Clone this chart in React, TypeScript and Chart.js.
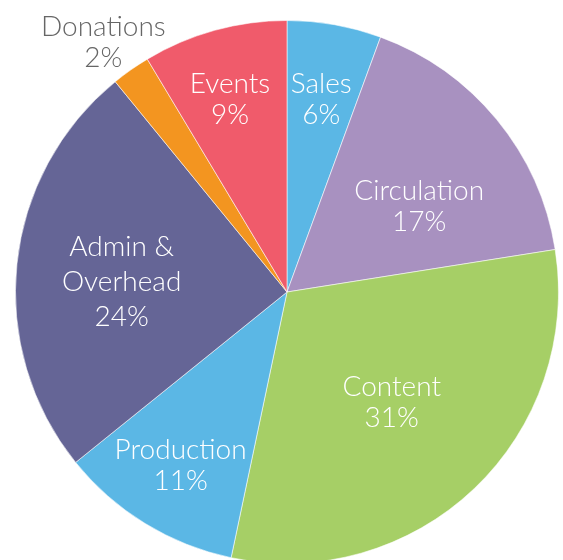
import React, { useEffect, useRef } from "react";
import { Chart, registerables } from "chart.js";

Chart.register(...registerables);

const categories = ["Sales", "Circulation", "Content", "Production", "Admin & Overhead", "Donations", "Events"];
const shares = [5.6, 16.9, 30.8, 10.9, 24.9, 2.3, 8.6];
const percentLabels = ["6%", "17%", "31%", "11%", "24%", "2%", "9%"];
const labelLines = [["Sales"], ["Circulation"], ["Content"], ["Production"], ["Admin &", "Overhead"], ["Donations"], ["Events"]];
const colors = ["#5BB7E5", "#A891C0", "#A6CF66", "#5BB7E5", "#656596", "#F39520", "#F05B6B"];

// label placement styles: radial fraction and angular offset (deg)
const labelRadius = [0.72, 0.58, 0.56, 0.75, 0.61, 1.14, 0.74];
const labelAngleOffset = [0, 6.5, 0, 0, -2.5, -1.3, -1];
const labelColor = ["#fff", "#fff", "#fff", "#fff", "#fff", "#666", "#fff"];

const labelPlugin = {
  id: "sliceLabels",
  afterDatasetsDraw(chart: any) {
    const ctx = chart.ctx;
    const meta = chart.getDatasetMeta(0);
    ctx.save();
    ctx.font = "300 28px Lato";
    ctx.textAlign = "center";
    ctx.textBaseline = "middle";
    meta.data.forEach((arc: any, i: number) => {
      const p = arc.getProps(["x", "y", "startAngle", "endAngle", "outerRadius"], true);
      const mid = (p.startAngle + p.endAngle) / 2 + (labelAngleOffset[i] * Math.PI) / 180;
      const r = p.outerRadius * labelRadius[i];
      const cx = p.x + Math.cos(mid) * r;
      const cy = p.y + Math.sin(mid) * r;
      const lines = [...labelLines[i], percentLabels[i]];
      const lh = lines.length > 2 ? 35 : 31;
      const top = cy - ((lines.length - 1) * lh) / 2;
      ctx.fillStyle = labelColor[i];
      lines.forEach((t, k) => ctx.fillText(t, cx, top + k * lh));
    });
    ctx.restore();
  },
};

export default function App() {
  const ref = useRef<HTMLCanvasElement>(null);
  useEffect(() => {
    document.body.style.margin = "0";
    const chart = new Chart(ref.current!, {
      type: "pie",
      data: {
        labels: categories,
        datasets: [
          {
            data: shares,
            backgroundColor: colors,
            borderColor: "rgba(255,255,255,0.55)",
            borderWidth: 1,
          },
        ],
      },
      options: {
        animation: false,
        responsive: false,
        layout: { padding: { left: 15, right: 4, top: 20, bottom: 20 } },
        plugins: { legend: { display: false }, tooltip: { enabled: false } },
      },
      plugins: [labelPlugin],
    });
    return () => chart.destroy();
  }, []);
  return (
    <div style={{ width: 563, height: 560, overflow: "hidden" }}>
      <canvas ref={ref} width={563} height={584} style={{ display: "block" }} />
    </div>
  );
}
